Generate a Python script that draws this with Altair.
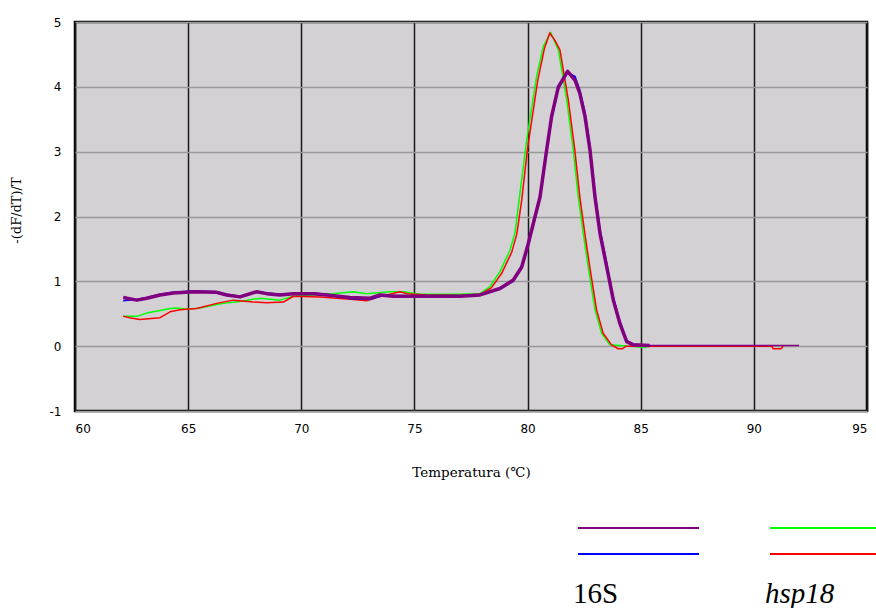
import altair as alt
import pandas as pd

# ---- data ----
purple_T = [62.13, 62.73, 63.17, 63.76, 64.34, 65.23, 66.26, 66.70, 67.29, 68.03, 68.47, 69.06,
            69.65, 70.53, 71.12, 72.15, 73.04, 73.48, 74.07, 75.54, 77.00, 77.90, 78.78, 79.37,
            79.74, 80.03, 80.33, 80.55, 80.84, 81.06, 81.36, 81.77, 82.10, 82.31, 82.54, 82.76,
            82.98, 83.20, 83.50, 83.79, 84.08, 84.38, 84.67, 85.40, 88.00, 90.00, 92.00]
purple_v = [0.75, 0.71, 0.74, 0.79, 0.82, 0.84, 0.83, 0.79, 0.76, 0.84, 0.81, 0.79,
            0.81, 0.81, 0.79, 0.75, 0.74, 0.79, 0.77, 0.77, 0.77, 0.79, 0.89, 1.02,
            1.22, 1.58, 2.00, 2.30, 3.02, 3.54, 4.00, 4.24, 4.10, 3.90, 3.54, 3.02,
            2.30, 1.74, 1.22, 0.71, 0.35, 0.07, 0.02, 0.01, 0.01, 0.01, 0.01]

blue_T = purple_T
blue_v = [0.70, 0.72, 0.75, 0.80, 0.83, 0.85, 0.84, 0.80, 0.77, 0.84, 0.82, 0.80,
          0.81, 0.82, 0.80, 0.73, 0.72, 0.77, 0.78, 0.77, 0.77, 0.79, 0.88, 1.00,
          1.20, 1.55, 1.97, 2.27, 2.98, 3.50, 3.97, 4.22, 4.16, 3.95, 3.60, 3.08,
          2.36, 1.80, 1.27, 0.75, 0.38, 0.09, 0.03, 0.01, 0.01, 0.01, 0.01]

green_T = [62.13, 62.73, 63.17, 63.76, 64.20, 64.49, 64.93, 65.52, 66.11, 66.55, 67.29, 68.18,
           69.06, 69.65, 70.53, 71.41, 72.30, 72.89, 73.92, 74.51, 75.25, 76.72, 77.90, 78.34,
           78.78, 79.22, 79.44, 79.66, 79.96, 80.40, 80.69, 81.02, 81.36, 81.73, 82.02, 82.24,
           82.46, 82.68, 82.98, 83.27, 83.64, 85.26]
green_v = [0.46, 0.46, 0.51, 0.55, 0.58, 0.59, 0.57, 0.59, 0.63, 0.66, 0.69, 0.74,
           0.71, 0.77, 0.79, 0.81, 0.84, 0.81, 0.84, 0.84, 0.80, 0.80, 0.81, 0.92,
           1.15, 1.48, 1.74, 2.35, 3.18, 4.16, 4.62, 4.84, 4.57, 3.80, 3.02, 2.30,
           1.74, 1.22, 0.56, 0.20, 0.02, -0.02]

red_T = [62.13, 62.40, 62.87, 63.76, 64.20, 64.64, 65.38, 66.26, 67.00, 67.88, 68.47, 69.21,
         69.65, 70.83, 72.30, 72.89, 73.33, 74.36, 74.66, 75.54, 77.00, 77.90, 78.40, 78.85,
         79.30, 79.52, 79.74, 80.00, 80.45, 80.75, 80.98, 81.20, 81.43, 81.80, 82.09, 82.31,
         82.53, 82.75, 83.05, 83.34, 83.71, 84.00, 84.20, 84.35, 86.00, 88.00, 90.80, 90.85,
         91.20, 91.30]
red_v = [0.46, 0.44, 0.41, 0.44, 0.53, 0.56, 0.58, 0.66, 0.71, 0.68, 0.67, 0.68,
         0.77, 0.76, 0.72, 0.70, 0.75, 0.84, 0.81, 0.79, 0.78, 0.80, 0.90, 1.12,
         1.45, 1.72, 2.25, 3.05, 4.10, 4.60, 4.83, 4.72, 4.57, 3.80, 3.02, 2.30,
         1.74, 1.22, 0.56, 0.20, 0.02, -0.04, -0.04, 0.00, 0.00, 0.00, 0.00, -0.04,
         -0.04, 0.00]

series_names = ["hsp18 a", "hsp18 b", "16S b", "16S a"]   # drawing order
series_colors = ["#00ff00", "#ff0000", "#0000ff", "#800080"]
series_widths = [1.5, 1.5, 1.5, 3.5]
tail_start = 85.4   # the 16S traces are drawn thin (purple on top) beyond this temperature

x_ticks = [60, 65, 70, 75, 80, 85, 90, 95]
y_ticks = [-1, 0, 1, 2, 3, 4, 5]

frames = []
for name, T, v in [("16S a", purple_T, purple_v), ("16S b", blue_T, blue_v),
                   ("hsp18 a", green_T, green_v), ("hsp18 b", red_T, red_v)]:
    frames.append(pd.DataFrame({"T": T, "v": v, "series": name}))
df = pd.concat(frames, ignore_index=True)

x_enc = alt.X("T:Q", scale=alt.Scale(domain=[60, 95], nice=False, zero=False),
              axis=alt.Axis(values=x_ticks, title="Temperatura (℃)", ticks=False, domain=False,
                            grid=True, gridColor="#1a1a1a", gridWidth=1.5,
                            labelExpr="'' + datum.value",
                            labelFont="DejaVu Sans", labelFontSize=12, labelColor="#000",
                            labelPadding=12, titleFont="DejaVu Serif", titleFontSize=13.5,
                            titleFontWeight="normal", titleColor="#000", titlePadding=31))
y_enc = alt.Y("v:Q", scale=alt.Scale(domain=[-1, 5], nice=False, zero=False),
              axis=alt.Axis(values=y_ticks, title="-(dF/dT)/T", ticks=False, domain=False,
                            grid=True, gridColor="#999999", gridWidth=1.5,
                            labelExpr="'' + datum.value",
                            labelFont="DejaVu Sans", labelFontSize=12, labelColor="#000",
                            labelPadding=14, titleFont="DejaVu Serif", titleFontSize=13,
                            titleFontWeight="normal", titleColor="#000",
                            titleAngle=270, titleAlign="center", titleBaseline="middle",
                            titleX=-59, titleY=188))
color_enc = alt.Color("series:N", scale=alt.Scale(domain=series_names, range=series_colors),
                      legend=None)

base = alt.Chart(df)
layers = []
for i, name in enumerate(series_names):
    filt = alt.datum.series == name
    if name.startswith("16S"):
        filt = (alt.datum.series == name) & (alt.datum.T <= tail_start)
    lyr = base.transform_filter(filt).mark_line(
        interpolate="linear", strokeWidth=series_widths[i], strokeJoin="round").encode(
        x=x_enc if i == 0 else alt.X("T:Q"),
        y=y_enc if i == 0 else alt.Y("v:Q"),
        color=color_enc)
    layers.append(lyr)
# thin tail of the 16S trace
layers.append(base.transform_filter((alt.datum.series == "16S a") & (alt.datum.T >= tail_start))
              .mark_line(interpolate="linear", strokeWidth=1.5)
              .encode(x=alt.X("T:Q"), y=alt.Y("v:Q"), color=color_enc))

one = alt.Chart(pd.DataFrame({"a": [0]}))
leg_16S_a = one.mark_rule(color="#800080", strokeWidth=2).encode(
    x=alt.value(503), x2=alt.value(624), y=alt.value(506))
leg_16S_b = one.mark_rule(color="#0000ff", strokeWidth=2).encode(
    x=alt.value(503), x2=alt.value(624), y=alt.value(532))
leg_h_a = one.mark_rule(color="#00ff00", strokeWidth=2).encode(
    x=alt.value(695), x2=alt.value(801), y=alt.value(506))
leg_h_b = one.mark_rule(color="#ff0000", strokeWidth=2).encode(
    x=alt.value(695), x2=alt.value(801), y=alt.value(532))
lab_16S = one.mark_text(font="Liberation Serif", fontSize=29, align="left",
                        baseline="alphabetic", color="#000").encode(
    x=alt.value(498), y=alt.value(581), text=alt.value("16S"))
lab_h = one.mark_text(font="Liberation Serif", fontSize=29, fontStyle="italic", align="left",
                      baseline="alphabetic", color="#000").encode(
    x=alt.value(690), y=alt.value(581), text=alt.value("hsp18"))

chart = alt.layer(*layers, leg_16S_a, leg_16S_b, leg_h_a, leg_h_b, lab_16S, lab_h).properties(
    width=792, height=389,
    autosize="none",
    padding={"left": 75, "top": 22, "right": 9, "bottom": 197},
    background="#ffffff",
).configure_view(fill="#d4d1d5", stroke="#000000", strokeWidth=2.5)

chart.save("out.html", embed_options={"renderer": "svg", "actions": False})
